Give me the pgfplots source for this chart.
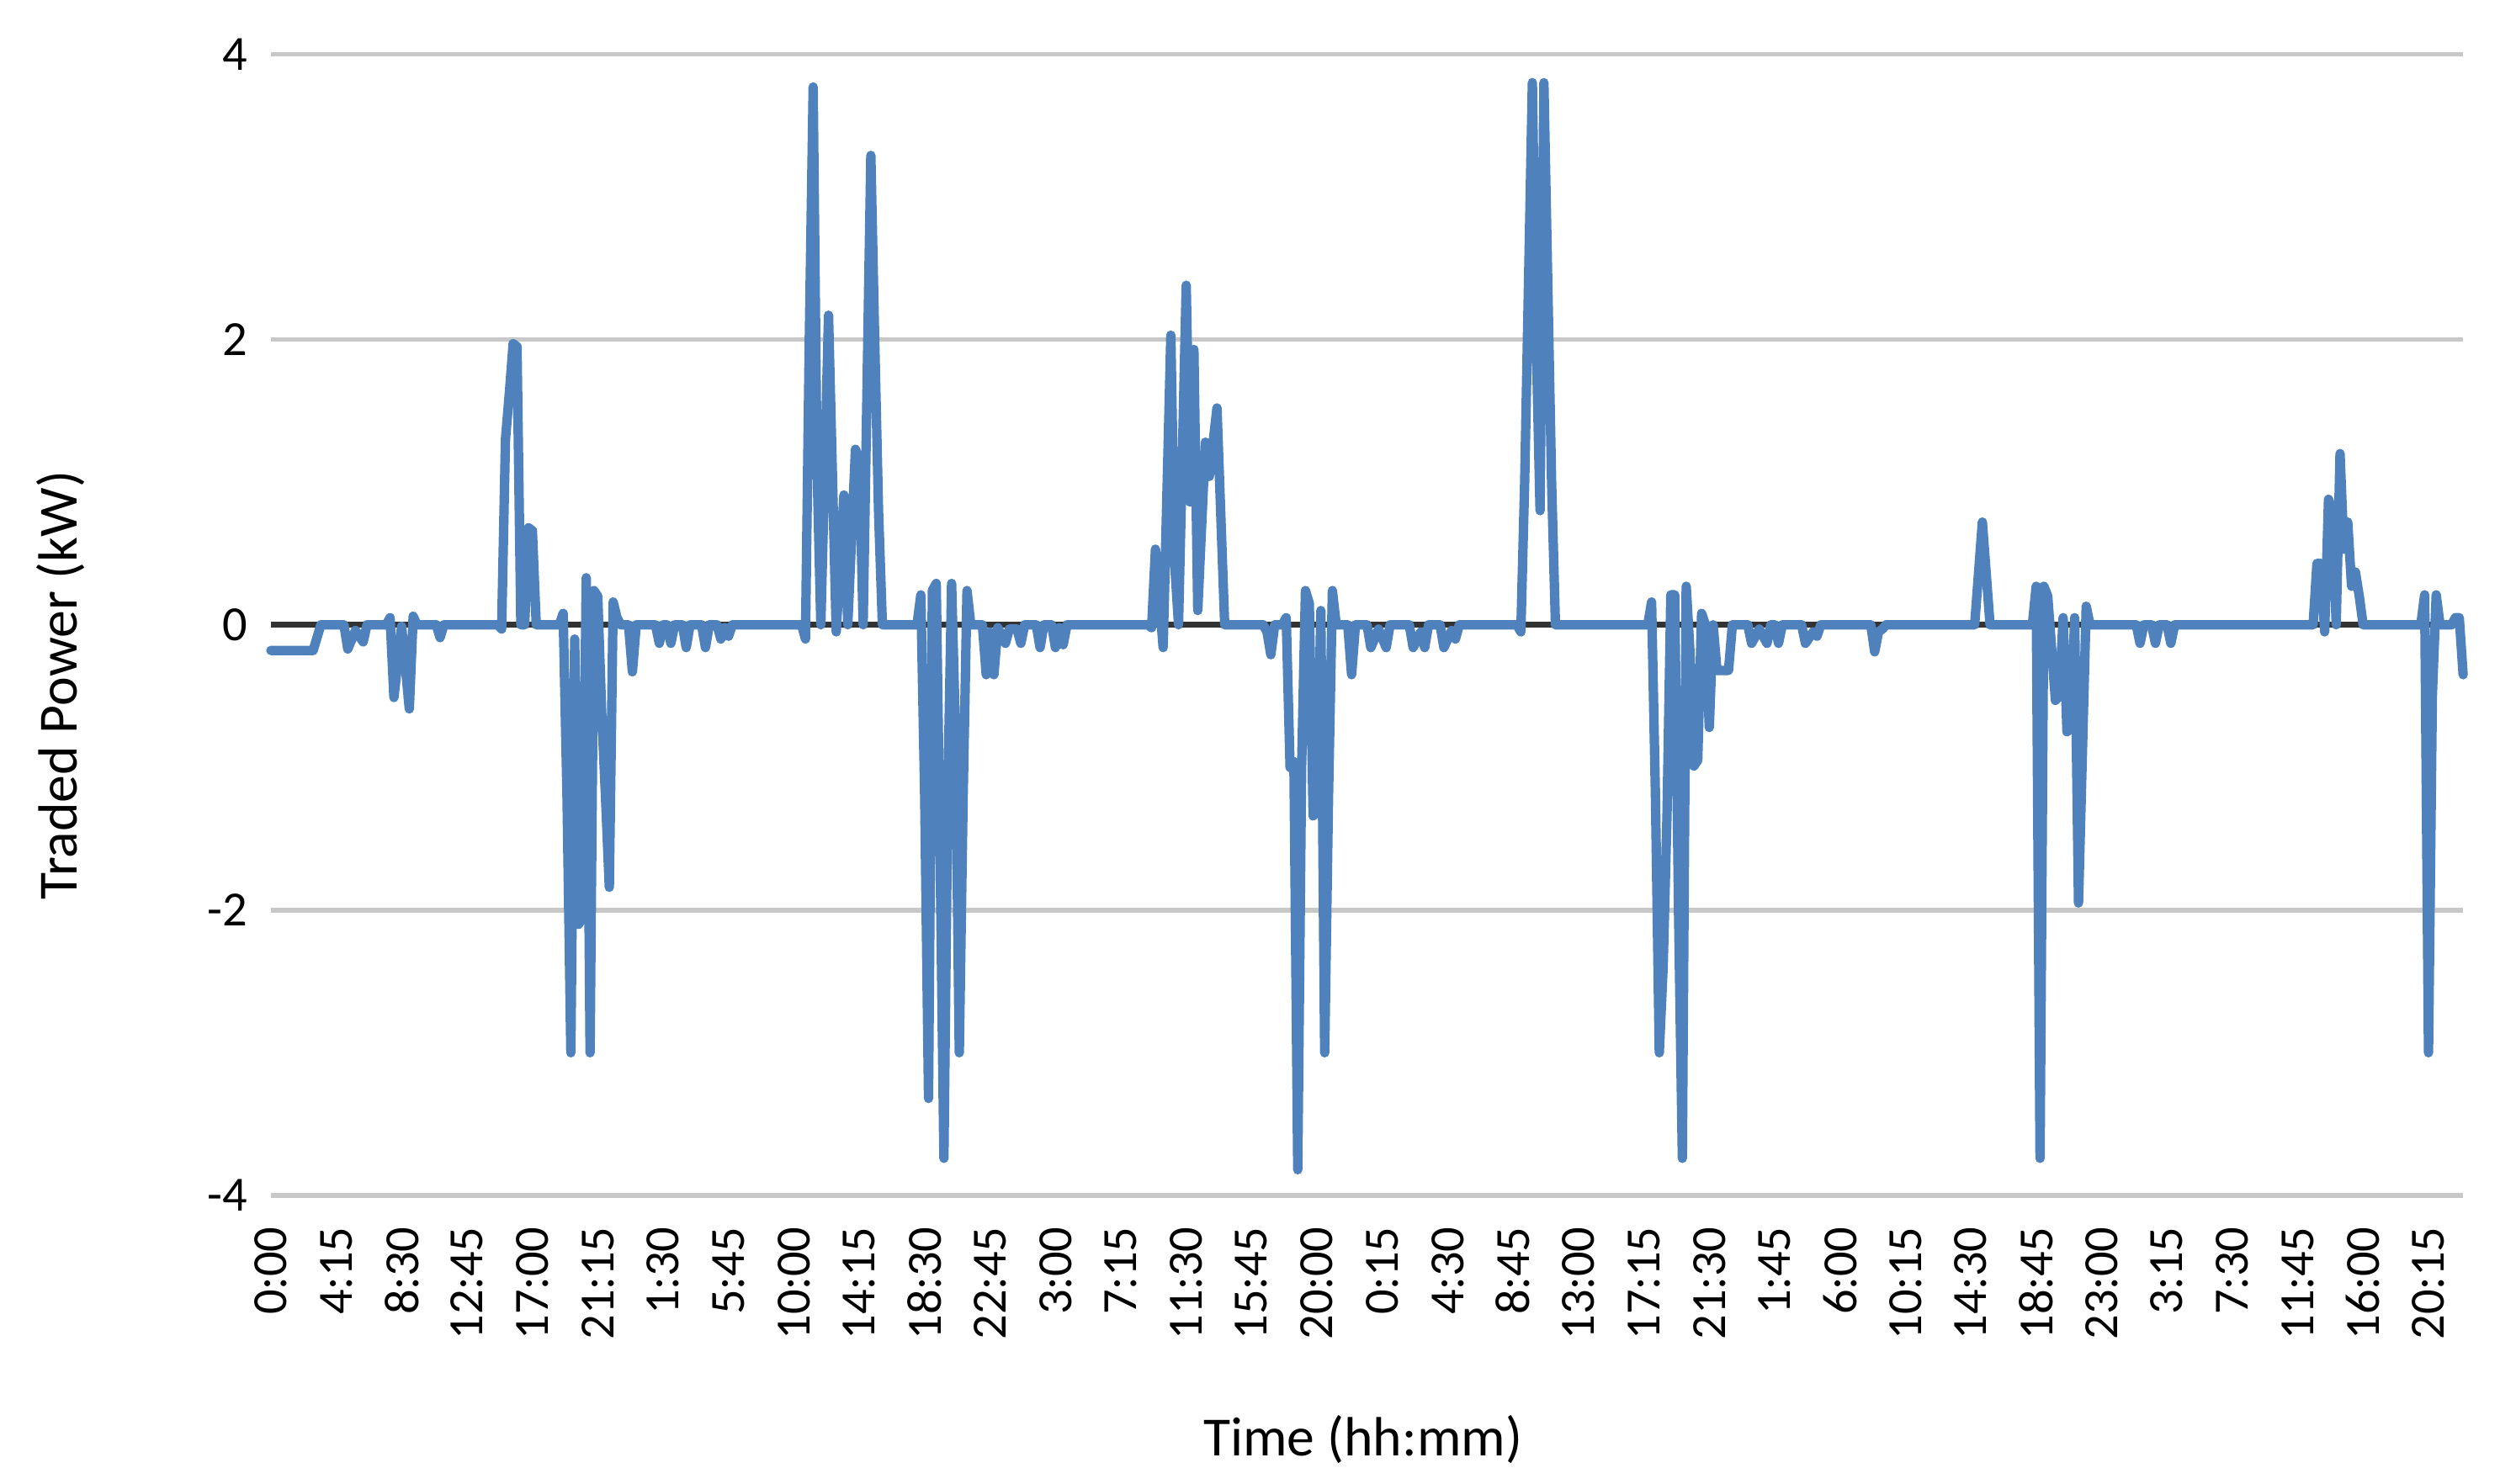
\documentclass[border=0pt]{standalone}
\usepackage{fontspec}
\setmainfont{Carlito}
\usepackage{pgfplots}
\pgfplotsset{compat=1.18}
\usepackage{pgfplotstable}
\definecolor{exblue}{HTML}{4F81BD}
\definecolor{gridgray}{HTML}{C8C8C8}
\definecolor{zeroline}{HTML}{333333}
\pgfplotstableread{
x y
0 -0.18
11 -0.18
13 0
19 0
20 -0.17
22 -0.04
24 -0.12
25 0
30 0
31 0.05
32 -0.51
34 -0.01
36 -0.59
37 0.06
38 0
43 0
44 -0.09
45 0
59 0
60 -0.03
61 1.3
62 1.62
63 1.97
64 1.95
65 0
66 0
67 0.68
68 0.66
69 0
75 0
76 0.08
77 -1.2
78 -3.0
79 -0.1
80 -2.1
81 -2.05
82 0.33
83 -3.0
84 0.24
85 0.2
86 -0.6
87 -1.2
88 -1.84
89 0.16
90 0.05
91 0
93 0
94 -0.33
95 0
100 0
101 -0.13
102 0
103 0
104 -0.13
105 0
107 0
108 -0.16
109 0
112 0
113 -0.16
114 0
116 0
117 -0.1
118 -0.02
119 -0.08
120 0
138 0
139 -0.1
140 2.0
141 3.77
142 1.12
143 0
145 2.17
147 -0.05
149 0.91
150 0
152 1.23
153 1.15
154 0
156 3.29
157 2.0
158 0.8
159 0
167 0
168 0
169 0.21
170 -1.2
171 -3.32
172 0.24
173 0.29
174 -1.6
175 -3.74
176 -1.2
177 0.29
178 -0.75
179 -3.0
180 -1.2
181 0.24
182 0
185 0
186 -0.35
187 -0.05
188 -0.35
189 -0.02
191 -0.13
192 -0.03
194 -0.03
195 -0.13
196 0
199 0
200 -0.16
201 0
203 0
204 -0.16
205 -0.02
206 -0.14
207 0
228 0
229 -0.02
230 0.53
232 -0.16
234 2.03
235 0.43
236 0
238 2.38
239 0.86
240 1.93
241 0.1
243 1.28
244 1.04
246 1.52
248 0
258 0
259 -0.05
260 -0.21
261 0
263 0
264 0.05
265 -1.0
266 -0.96
267 -3.82
268 -1.0
269 0.24
270 0.15
271 -1.34
272 -1.3
273 0.1
274 -3.0
275 -1.2
276 0.24
277 0
280 0
281 -0.35
282 0
285 0
286 -0.16
288 -0.03
290 -0.16
291 0
296 0
297 -0.16
299 -0.05
300 -0.16
301 0
304 0
305 -0.16
307 -0.04
308 -0.1
309 0
324 0
325 -0.05
326 1.0
327 2.4
328 3.8
329 2.0
330 0.8
331 3.8
332 2.4
333 1.0
334 0
358 0
359 0.16
360 -1.2
361 -3.0
362 -2.4
363 -1.34
364 0.21
365 0.21
366 -2.0
367 -3.74
368 0.27
369 -0.2
370 -0.99
371 -0.95
372 0.08
373 0
374 -0.72
375 0
376 -0.32
379 -0.32
380 0
384 0
385 -0.13
387 -0.03
389 -0.13
390 0
391 0
392 -0.13
393 0
398 0
399 -0.13
401 -0.05
402 -0.08
403 0
416 0
417 -0.19
418 -0.05
419 -0.03
420 0
443 0
445 0.72
447 0
458 0
459 0.27
460 -3.74
461 0.27
462 0.2
464 -0.53
465 -0.5
466 0.05
467 -0.75
468 -0.72
469 0.05
470 -1.95
472 0.13
473 0
485 0
486 -0.13
487 0
489 0
490 -0.13
491 0
493 0
494 -0.13
495 0
531 0
532 0.43
533 0.43
534 -0.05
535 0.88
536 0.8
537 0
538 1.2
539 0.53
540 0.72
541 0.27
542 0.37
543 0.2
544 0
559 0
560 0.21
561 -3.0
562 -0.5
563 0.21
564 0
567 0
568 0.05
569 0.05
570 -0.35
}\tradedata
\begin{document}
\begin{tikzpicture}
\useasboundingbox (-66.1pt,-70.4pt) rectangle (544pt,291.8pt);
\begin{axis}[
  at={(0pt,0pt)}, anchor=south west,
  scale only axis, width=535pt, height=278.6pt,
  xmin=0, xmax=570, ymin=-4, ymax=4,
  axis line style={draw=none},
  major tick length=0pt,
  ytick={-4,-2,0,2,4}, yticklabels={-4,-2,0,2,4},
  xtick={0,17,34,51,68,85,102,119,136,153,170,187,204,221,238,255,272,289,306,323,340,357,374,391,408,425,442,459,476,493,510,527,544,561},
  xticklabels={0:00,4:15,8:30,12:45,17:00,21:15,1:30,5:45,10:00,14:15,18:30,22:45,3:00,7:15,11:30,15:45,20:00,0:15,4:30,8:45,13:00,17:15,21:30,1:45,6:00,10:15,14:30,18:45,23:00,3:15,7:30,11:45,16:00,20:15},
  ymajorgrids, grid style={gridgray, line width=1.15pt},
  xticklabel style={rotate=90, anchor=east, inner sep=0pt, font=\fontsize{12}{14}\selectfont},
  xticklabel shift={7.5pt},
  yticklabel style={anchor=east, inner sep=0pt, font=\fontsize{12}{14}\selectfont},
  yticklabel shift={5.5pt},
  clip=false
]
\draw[zeroline, line width=1.3pt] (axis cs:0,0) -- (axis cs:570,0);
\addplot[exblue, line width=2.3pt, line join=round, line cap=round, mark=none] table[x=x, y=y] {\tradedata};
\end{axis}
\node[rotate=90, font=\fontsize{13.5}{16}\selectfont] at (-51.3pt,124.5pt) {Traded Power (kW)};
\node[font=\fontsize{13.5}{16}\selectfont] at (266.5pt,-59.5pt) {Time (hh:mm)};
\end{tikzpicture}
\end{document}
